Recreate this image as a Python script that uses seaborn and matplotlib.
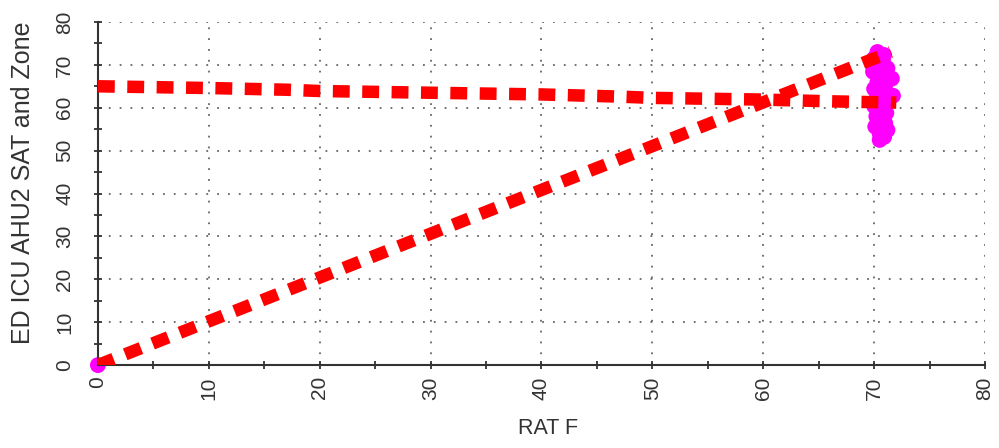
import matplotlib
matplotlib.use("Agg")
import matplotlib.pyplot as plt
import seaborn as sns
import pandas as pd
import numpy as np
from matplotlib.ticker import MultipleLocator

# Data
diag_x = [0, 71.5]
diag_y = [0, 73]
flat_x = [0, 10, 17, 20, 30, 40, 47, 50, 60, 66, 72]
flat_y = [65, 64.6, 64.2, 63.9, 63.5, 63.1, 62.6, 62.3, 61.9, 61.5, 61.2]
zone_x = [0, 70.3, 70.9, 70.0, 70.8, 70.4, 71.2, 69.9, 70.7, 71.6, 70.3, 71.0, 70.0, 70.6, 71.7,
          70.2, 70.9, 70.0, 70.6, 71.1, 70.2, 70.7, 71.0, 70.1, 71.2, 70.5, 70.9, 70.5]
zone_y = [0, 73, 72.3, 71.5, 70.8, 70, 69.2, 68.4, 67.6, 66.8, 66, 65.2, 64.4, 63.6, 62.8,
          62, 61.2, 60.4, 59.6, 58.8, 58, 57.2, 56.4, 55.6, 54.8, 54, 53.2, 52.5]

sns.set_style("white")
plt.rcParams['font.family'] = ['Liberation Sans', 'DejaVu Sans']

fig = plt.figure(figsize=(9.99, 4.48), dpi=100)
ax = fig.add_axes([0.098, 0.185, 0.888, 0.766])

df_flat = pd.DataFrame({"x": flat_x, "y": flat_y})
df_diag = pd.DataFrame({"x": diag_x, "y": diag_y})
df_zone = pd.DataFrame({"x": zone_x, "y": zone_y})

sns.scatterplot(data=df_zone, x="x", y="y", ax=ax, color="#ff00ff", s=130,
                marker="o", edgecolor="none", zorder=2)
ax.collections[0].set_clip_on(False)
dash = (0, (1.35, 1.0))
sns.lineplot(data=df_diag, x="x", y="y", ax=ax, color="#ff0000", lw=9,
             linestyle=dash, sort=False, zorder=3, estimator=None)
sns.lineplot(data=df_flat, x="x", y="y", ax=ax, color="#ff0000", lw=9,
             linestyle=dash, sort=False, zorder=3, estimator=None)
for l in ax.get_lines():
    l.set_dash_capstyle("butt")

ax.set_xlim(0, 80)
ax.set_ylim(0, 80)
ax.xaxis.set_major_locator(MultipleLocator(10))
ax.yaxis.set_major_locator(MultipleLocator(10))
ax.xaxis.set_minor_locator(MultipleLocator(5))
ax.yaxis.set_minor_locator(MultipleLocator(5))
ax.tick_params(which="both", direction="inout", length=6, width=1.2, color="#222222",
               bottom=True, left=True)
ax.tick_params(axis="both", which="major", labelsize=15, labelcolor="#333333")
ax.tick_params(axis="x", which="major", pad=5)
ax.tick_params(axis="y", which="major", pad=14)
for lab in ax.get_xticklabels() + ax.get_yticklabels():
    lab.set_rotation(90)
for lab in ax.get_yticklabels():
    lab.set_va("center")
ax.grid(True, which="major", color="#666666", linestyle=(0, (1, 5)), linewidth=1.3)
for s in ["top", "right"]:
    ax.spines[s].set_visible(False)
for s in ["left", "bottom"]:
    ax.spines[s].set_color("#333333")
    ax.spines[s].set_linewidth(1.5)
ax.set_xlabel("RAT F", fontsize=15.5, color="#333333")
ax.set_ylabel("ED ICU AHU2 SAT and Zone", fontsize=18, color="#333333")
ax.xaxis.set_label_coords(0.508, -0.155)
ax.yaxis.set_label_coords(-0.071, 0.53)

fig.savefig("out.png", dpi=100)
